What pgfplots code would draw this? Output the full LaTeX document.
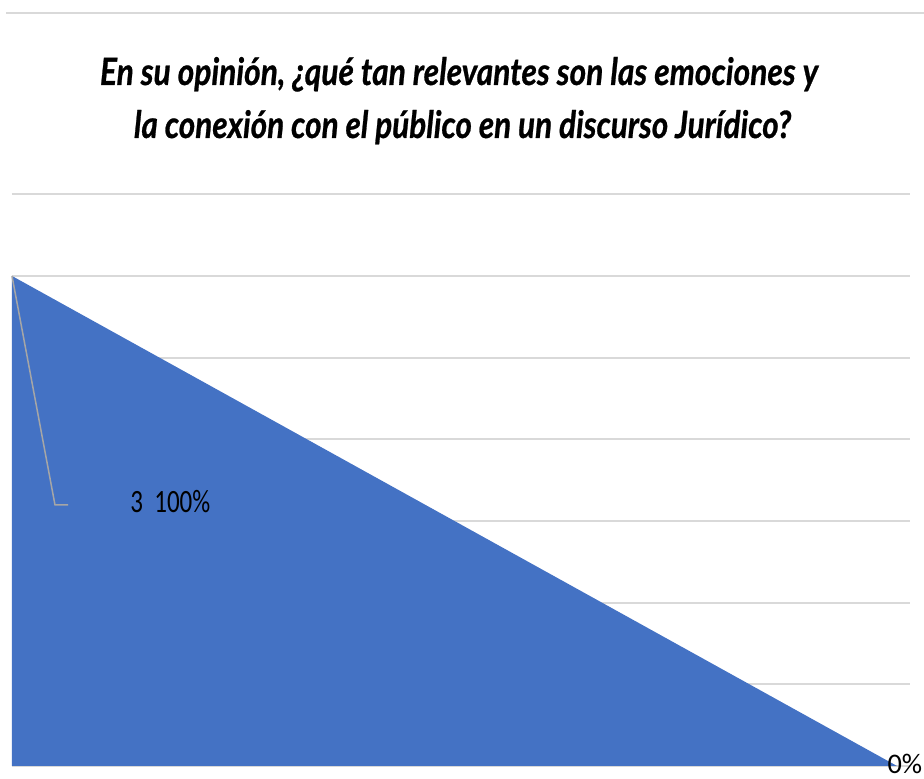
\documentclass[border=0pt]{standalone}
\usepackage{pgfplots}
\pgfplotsset{compat=1.18}
\usepackage{fontspec}
\usepackage{graphicx}
\setmainfont{Carlito}
\newfontfamily\titlefont[BoldItalicFeatures={FakeBold=0.8}]{Lato}
\definecolor{areablue}{HTML}{4472C4}
\definecolor{gridgray}{HTML}{D9D9D9}
\definecolor{leadgray}{HTML}{A6A6A6}
\begin{document}
\begin{tikzpicture}[x=1pt,y=1pt]
\path[use as bounding box] (0,0) rectangle (554.4,467.4);
\begin{axis}[
  at={(7.2pt,7.8pt)}, anchor=south west,
  scale only axis,
  width=538.8pt, height=451.8pt,
  xmin=0, xmax=1.01469,
  ymin=0, ymax=4.61,
  axis line style={draw=none},
  xtick=\empty,
  ytick={0,0.5,1,1.5,2,2.5,3,3.5},
  yticklabels={},
  major tick length=0pt,
  ymajorgrids,
  grid style={gridgray, line width=1.2pt},
  clip=false,
]
\addplot[fill=areablue, draw=none] coordinates {(0,0) (0,3) (1,0)} -- cycle;
\draw[leadgray, line width=0.9pt] (axis cs:0,3) -- (axis cs:0.0486,1.598) -- (axis cs:0.0633,1.598);
\end{axis}
\node[anchor=base east, inner sep=0pt, font=\fontsize{17}{20}\selectfont] at (553.5,3.2) {0\%};
\draw[gridgray, line width=1.2pt] (3.6,459.6) -- (554.4,459.6);
\node[anchor=base, inner sep=0pt] at (275.4,416.4) {\resizebox{430.8pt}{\height}{\titlefont\fontsize{22.6}{26}\selectfont\bfseries\itshape En su opinión, ¿qué tan relevantes son las emociones y}};
\node[anchor=base, inner sep=0pt] at (277.5,384.6) {\resizebox{394.2pt}{\height}{\titlefont\fontsize{22.6}{26}\selectfont\bfseries\itshape la conexión con el público en un discurso Jurídico?}};
\node[anchor=base west, inner sep=0pt] at (78,159.6) {\resizebox{48pt}{\height}{\fontsize{19.5}{22}\selectfont 3\ \ 100\%}};
\end{tikzpicture}
\end{document}
